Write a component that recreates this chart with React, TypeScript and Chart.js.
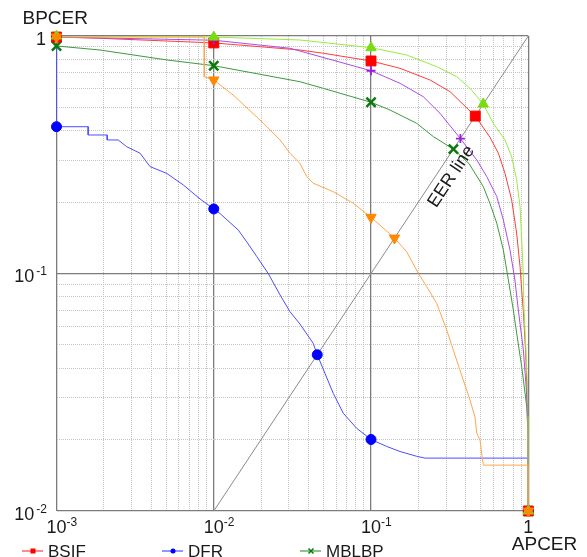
import React, { useEffect, useRef } from 'react';
import { Chart, registerables } from 'chart.js';

Chart.register(...registerables);

// ---------------- data ----------------
const SERIES_LABELS = ['BSIF', 'DFR', 'MBLBP', 'Series 4', 'Series 5', 'Series 6'];
const LEGEND_COUNT = 3; // only the first three legend entries are visible

const X_TICKS = [0.001, 0.01, 0.1, 1];
const X_TICK_EXP = ['-3', '-2', '-1', ''];
const Y_TICKS = [0.01, 0.1, 1];
const Y_TICK_EXP = ['-2', '-1', ''];
const X_TITLE = 'APCER';
const Y_TITLE = 'BPCER';
const EER_LABEL = 'EER line';
const EER_X = [0.01, 1];
const EER_Y = [0.01, 1];

// BSIF (red, square)
const bsifX = [0.001, 0.00189, 0.01, 0.0353, 0.0497, 0.1, 0.153, 0.237, 0.318, 0.46, 0.57, 0.645, 0.711, 0.784, 0.843, 0.886, 0.908, 0.929, 0.96, 0.98, 1, 1];
const bsifY = [0.99, 0.978, 0.935, 0.873, 0.846, 0.785, 0.731, 0.653, 0.583, 0.46, 0.375, 0.321, 0.264, 0.204, 0.148, 0.107, 0.085, 0.07, 0.048, 0.033, 0.022, 0.01];
const bsifMarkX = [0.001, 0.01, 0.1, 0.46, 1];
const bsifMarkY = [0.99, 0.935, 0.785, 0.46, 0.01];

// DFR (blue, circle)
const dfrX = [0.001, 0.001, 0.00159, 0.00159, 0.0021, 0.0021, 0.00247, 0.00279, 0.0034, 0.00393, 0.00502, 0.0064, 0.00818, 0.01, 0.01095, 0.0143, 0.0162, 0.01875, 0.0222, 0.0264, 0.0305, 0.0353, 0.0429, 0.0455, 0.0575, 0.0666, 0.081, 0.1, 0.1258, 0.153, 0.195, 0.22, 1, 1];
const dfrY = [1, 0.415, 0.415, 0.383, 0.383, 0.365, 0.365, 0.342, 0.321, 0.282, 0.264, 0.236, 0.206, 0.187, 0.179, 0.1525, 0.136, 0.118, 0.1, 0.0812, 0.0691, 0.0613, 0.0508, 0.0455, 0.0313, 0.0258, 0.0223, 0.02, 0.0187, 0.0178, 0.017, 0.0167, 0.0167, 0.01];
const dfrMarkX = [0.001, 0.01, 0.1, 0.0455, 1];
const dfrMarkY = [0.415, 0.187, 0.02, 0.0455, 0.01];

// MBLBP (dark green, x)
const mblbpX = [0.001, 0.00189, 0.00502, 0.01, 0.0353, 0.0497, 0.1, 0.132, 0.195, 0.249, 0.334, 0.42, 0.518, 0.57, 0.63, 0.694, 0.747, 0.803, 0.843, 0.908, 0.977, 1, 1];
const mblbpY = [0.908, 0.873, 0.793, 0.75, 0.642, 0.602, 0.526, 0.488, 0.429, 0.377, 0.334, 0.29, 0.232, 0.1975, 0.163, 0.1256, 0.0939, 0.0702, 0.0562, 0.0405, 0.0275, 0.02, 0.01];
const mblbpMarkX = [0.001, 0.01, 0.1, 0.334, 1];
const mblbpMarkY = [0.908, 0.75, 0.526, 0.334, 0.01];

// Series 4 (orange, down triangle)
const s4X = [0.001, 0.0087, 0.0087, 0.01, 0.0133, 0.0207, 0.0264, 0.0305, 0.0353, 0.039, 0.0429, 0.0575, 0.0771, 0.1, 0.141, 0.1685, 0.2, 0.226, 0.2615, 0.303, 0.3335, 0.386, 0.426, 0.458, 0.47, 0.493, 0.505, 0.518, 1, 1];
const s4Y = [0.99, 0.99, 0.674, 0.653, 0.564, 0.429, 0.365, 0.321, 0.291, 0.256, 0.24, 0.221, 0.1975, 0.1724, 0.141, 0.1235, 0.1, 0.088, 0.0749, 0.0578, 0.0476, 0.0356, 0.0293, 0.0249, 0.0213, 0.0199, 0.01755, 0.0156, 0.0156, 0.01];
const s4MarkX = [0.001, 0.01, 0.1, 0.141, 1];
const s4MarkY = [0.99, 0.653, 0.1724, 0.141, 0.01];

// Series 5 (purple, plus)
const s5X = [0.001, 0.01, 0.0305, 0.1, 0.153, 0.215, 0.2745, 0.37, 0.47, 0.544, 0.63, 0.694, 0.765, 0.822, 0.864, 0.929, 0.97, 1, 1];
const s5Y = [0.99, 0.96, 0.888, 0.714, 0.632, 0.555, 0.4726, 0.37, 0.301, 0.256, 0.211, 0.168, 0.1256, 0.0939, 0.0702, 0.048, 0.033, 0.022, 0.01];
const s5MarkX = [0.001, 0.01, 0.1, 0.37, 1];
const s5MarkY = [0.99, 0.96, 0.714, 0.37, 0.01];

// Series 6 (light green, up triangle)
const s6X = [0.001, 0.01, 0.0353, 0.1, 0.1685, 0.2615, 0.351, 0.426, 0.517, 0.599, 0.711, 0.784, 0.843, 0.886, 0.908, 0.929, 0.939, 0.963, 0.985, 1, 1];
const s6Y = [1, 0.99, 0.962, 0.893, 0.832, 0.743, 0.674, 0.602, 0.517, 0.429, 0.365, 0.31, 0.248, 0.191, 0.1384, 0.1, 0.0702, 0.05, 0.035, 0.025, 0.01];
const s6MarkX = [0.001, 0.01, 0.1, 0.517, 1];
const s6MarkY = [1, 0.99, 0.893, 0.517, 0.01];

// ---------------- styles ----------------
const FONT = '"Liberation Sans", Arial, sans-serif';
const TEXT_COLOR = '#1a1a1a';

type Style = { line: string; mark: string; shape: string; radius: number; rotation: number; markWidth: number; order: number };
const STYLES: Style[] = [
  { line: '#ff3c3c', mark: '#ff0000', shape: 'rect', radius: 7, rotation: 0, markWidth: 1, order: 3 },
  { line: '#4d4dff', mark: '#0000ff', shape: 'circle', radius: 5, rotation: 0, markWidth: 1, order: 5 },
  { line: '#3d9a3d', mark: '#0a7a0a', shape: 'crossRot', radius: 6.5, rotation: 0, markWidth: 2.5, order: 4 },
  { line: '#ffa64d', mark: '#ff8800', shape: 'triangle', radius: 6, rotation: 180, markWidth: 1, order: 0 },
  { line: '#a94cea', mark: '#9b1de0', shape: 'cross', radius: 4.5, rotation: 0, markWidth: 1.8, order: 2 },
  { line: '#98ec3c', mark: '#77dd11', shape: 'triangle', radius: 6, rotation: 0, markWidth: 1, order: 1 },
];

const LINES: [number[], number[]][] = [[bsifX, bsifY], [dfrX, dfrY], [mblbpX, mblbpY], [s4X, s4Y], [s5X, s5Y], [s6X, s6Y]];
const MARKS: [number[], number[]][] = [[bsifMarkX, bsifMarkY], [dfrMarkX, dfrMarkY], [mblbpMarkX, mblbpMarkY], [s4MarkX, s4MarkY], [s5MarkX, s5MarkY], [s6MarkX, s6MarkY]];

const toPts = (xs: number[], ys: number[]) => xs.map((x, i) => ({ x, y: ys[i] }));

const isDecade = (v: number) => {
  const l = Math.log10(v);
  return Math.abs(l - Math.round(l)) < 1e-9;
};

const gridTicks = (min: number, max: number) => {
  const out: { value: number }[] = [];
  for (let e = Math.round(Math.log10(min)); e < Math.round(Math.log10(max)); e++) {
    for (let k = 1; k <= 9; k++) out.push({ value: Number((k * Math.pow(10, e)).toPrecision(6)) });
  }
  out.push({ value: max });
  return out;
};

function drawMarker(ctx: CanvasRenderingContext2D, shape: string, x: number, y: number, color: string) {
  ctx.save();
  ctx.fillStyle = color;
  ctx.strokeStyle = color;
  if (shape === 'rect') {
    ctx.fillRect(x - 2.5, y - 2.5, 5, 5);
  } else if (shape === 'circle') {
    ctx.beginPath();
    ctx.arc(x, y, 2.5, 0, Math.PI * 2);
    ctx.fill();
  } else {
    ctx.lineWidth = 1.5;
    ctx.beginPath();
    ctx.moveTo(x - 2.5, y - 2.5);
    ctx.lineTo(x + 2.5, y + 2.5);
    ctx.moveTo(x + 2.5, y - 2.5);
    ctx.lineTo(x - 2.5, y + 2.5);
    ctx.stroke();
  }
  ctx.restore();
}

const textPlugin = {
  id: 'customTexts',
  afterDraw(chart: any) {
    const { ctx, scales, chartArea: area } = chart;
    const xs = scales.x;
    const ys = scales.y;
    const big = `18px ${FONT}`;
    const small = `12px ${FONT}`;
    ctx.save();
    ctx.fillStyle = TEXT_COLOR;
    ctx.textAlign = 'left';
    ctx.textBaseline = 'alphabetic';

    // x tick labels
    X_TICKS.forEach((v, i) => {
      const px = xs.getPixelForValue(v);
      const base = area.bottom + 22;
      const exp = X_TICK_EXP[i];
      const main = exp ? '10' : '1';
      ctx.font = big;
      const w = ctx.measureText(main).width;
      ctx.fillText(main, px - w / 2, base);
      if (exp) {
        ctx.font = small;
        ctx.fillText(exp, px + w / 2, base - 7.5);
      }
    });

    // y tick labels
    Y_TICKS.forEach((v, i) => {
      const py = ys.getPixelForValue(v);
      const right = area.left - 9.5;
      const base = py + 8.5;
      const exp = Y_TICK_EXP[i];
      if (exp) {
        ctx.font = small;
        const sw = ctx.measureText(exp).width;
        ctx.fillText(exp, right - sw, base - 7);
        ctx.font = big;
        const w = ctx.measureText('10').width;
        ctx.fillText('10', right - sw - 2 - w, base);
      } else {
        ctx.font = big;
        const w = ctx.measureText('1').width;
        ctx.fillText('1', right - w - 1, base);
      }
    });

    // axis titles
    ctx.font = `19px ${FONT}`;
    ctx.fillText(Y_TITLE, area.left - 34, area.top - 12);
    ctx.fillText(X_TITLE, area.right - 16.5, area.bottom + 39);

    // EER label along the diagonal
    const p0x = xs.getPixelForValue(EER_X[0]);
    const p0y = ys.getPixelForValue(EER_Y[0]);
    const p1x = xs.getPixelForValue(EER_X[1]);
    const p1y = ys.getPixelForValue(EER_Y[1]);
    const ang = Math.atan2(p1y - p0y, p1x - p0x);
    const at = 0.275;
    const ax = xs.getPixelForValue(at);
    const ay = ys.getPixelForValue(at);
    const off = 13.5;
    ctx.save();
    ctx.translate(ax - Math.sin(ang) * off, ay + Math.cos(ang) * off);
    ctx.rotate(ang);
    ctx.font = `18px ${FONT}`;
    ctx.textAlign = 'center';
    ctx.textBaseline = 'middle';
    ctx.fillText(EER_LABEL, 0, 0);
    ctx.restore();

    // legend (first three entries visible)
    const legendX = [22, 162, 300];
    const ly = area.bottom + 40;
    for (let i = 0; i < LEGEND_COUNT; i++) {
      const st = STYLES[i];
      const x0 = legendX[i];
      ctx.strokeStyle = st.line;
      ctx.lineWidth = 1.2;
      ctx.beginPath();
      ctx.moveTo(x0, ly);
      ctx.lineTo(x0 + 21, ly);
      ctx.stroke();
      drawMarker(ctx, st.shape, x0 + 11, ly, st.mark);
      ctx.fillStyle = TEXT_COLOR;
      ctx.font = `17px ${FONT}`;
      ctx.textAlign = 'left';
      ctx.textBaseline = 'alphabetic';
      ctx.fillText(SERIES_LABELS[i], x0 + 26, ly + 5.5);
    }
    ctx.restore();
  },
};

export default function App() {
  const ref = useRef<HTMLCanvasElement | null>(null);

  useEffect(() => {
    if (!ref.current) return;
    const datasets: any[] = [];
    MARKS.forEach(([xs, ys], i) => {
      const st = STYLES[i];
      datasets.push({
        label: SERIES_LABELS[i] + ' markers',
        data: toPts(xs, ys),
        showLine: false,
        pointStyle: st.shape,
        pointRadius: st.radius,
        pointRotation: st.rotation,
        pointBackgroundColor: st.mark,
        pointBorderColor: st.mark,
        pointBorderWidth: st.markWidth,
        clip: false,
        order: st.order,
      });
    });
    LINES.forEach(([xs, ys], i) => {
      const st = STYLES[i];
      datasets.push({
        label: SERIES_LABELS[i],
        data: toPts(xs, ys),
        borderColor: st.line,
        borderWidth: 1,
        pointRadius: 0,
        tension: 0,
        fill: false,
        order: 10 + st.order,
      });
    });
    datasets.push({
      label: EER_LABEL,
      data: toPts(EER_X, EER_Y),
      borderColor: '#8a8a8a',
      borderWidth: 1,
      pointRadius: 0,
      fill: false,
      order: 30,
    });

    const gridColor = (c: any) => (c.tick && isDecade(c.tick.value) ? '#7c7c7c' : '#c4c4c4');
    const gridWidth = (c: any) => (c.tick && isDecade(c.tick.value) ? 1.3 : 1);
    const gridDash = (c: any) => (c.tick && isDecade(c.tick.value) ? [] : [1, 1]);

    const chart = new Chart(ref.current, {
      type: 'line',
      data: { datasets },
      options: {
        animation: false,
        responsive: false,
        events: [],
        layout: { padding: { left: 56.5, top: 36, right: 58.7, bottom: 46 } },
        plugins: { legend: { display: false }, tooltip: { enabled: false } },
        scales: {
          x: {
            type: 'logarithmic',
            min: X_TICKS[0],
            max: X_TICKS[X_TICKS.length - 1],
            afterBuildTicks: (axis: any) => { axis.ticks = gridTicks(X_TICKS[0], X_TICKS[X_TICKS.length - 1]); },
            ticks: { display: false },
            grid: { color: gridColor, lineWidth: gridWidth, drawTicks: false },
            border: { display: false, dash: gridDash },
          },
          y: {
            type: 'logarithmic',
            min: Y_TICKS[0],
            max: Y_TICKS[Y_TICKS.length - 1],
            afterBuildTicks: (axis: any) => { axis.ticks = gridTicks(Y_TICKS[0], Y_TICKS[Y_TICKS.length - 1]); },
            ticks: { display: false },
            grid: { color: gridColor, lineWidth: gridWidth, drawTicks: false },
            border: { display: false, dash: gridDash },
          },
        },
      } as any,
      plugins: [textPlugin],
    });
    return () => chart.destroy();
  }, []);

  return (
    <div style={{ position: 'fixed', left: 0, top: 0, width: 587, height: 557, background: '#fff' }}>
      <canvas ref={ref} width={587} height={557} />
    </div>
  );
}
